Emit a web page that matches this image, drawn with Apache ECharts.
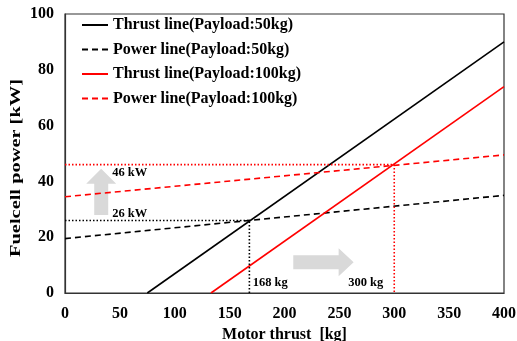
<!DOCTYPE html>
<html>
<head>
<meta charset="utf-8">
<script src="https://cdn.jsdelivr.net/npm/echarts@6/dist/echarts.min.js"></script>
<style>
html,body{margin:0;padding:0;background:#fff;}
#chart{width:517px;height:341px;}
</style>
</head>
<body>
<div id="chart"></div>
<script>
// line end points: [thrust kg, power kW]
var thrust50 = [[75, 0], [400, 90]];
var power50 = [[0, 19.5], [400, 35]];
var thrust100 = [[133, 0], [400, 74]];
var power100 = [[0, 34.5], [400, 49.5]];
// operating points
var guide50 = [[0, 26], [168, 26], [168, 0]];
var guide100 = [[0, 46], [300, 46], [300, 0]];
var seriesNames = ["Thrust line(Payload:50kg)", "Power line(Payload:50kg)",
	"Thrust line(Payload:100kg)", "Power line(Payload:100kg)"];
var noteTexts = ["46 kW", "26 kW", "168 kg", "300 kg"];
var yTitle = "Fuelcell power [kW]";

var FONT = "Liberation Serif";

function lineSeries(name, data, color, type)
{
	return {
		name: name, type: "line", data: data, symbol: "none", silent: true,
		lineStyle: {color: color, width: 1.6, type: type},
		itemStyle: {color: color}
	};
}

var chart = echarts.init(document.getElementById("chart"));
chart.setOption({
	animation: false,
	grid: {left: 65, right: 13, top: 14, bottom: 48, outerBoundsMode: "none",
		show: true, borderColor: "#333", borderWidth: 1.2},
	legend: {
		data: seriesNames, orient: "vertical", left: 81, top: 17, itemGap: 8.5, padding: 0,
		itemWidth: 26, itemHeight: 16,
		itemStyle: {opacity: 0},
		textStyle: {fontFamily: FONT, fontWeight: "bold", fontSize: 16, color: "#000"}
	},
	xAxis: {
		type: "value", min: 0, max: 400, interval: 50,
		name: "Motor thrust  [kg]", nameLocation: "middle", nameGap: 27,
		nameTextStyle: {fontFamily: FONT, fontWeight: "bold", fontSize: 16, color: "#000", verticalAlign: "top"},
		axisLine: {lineStyle: {color: "#333", width: 1.2}},
		axisTick: {show: false}, splitLine: {show: false},
		axisLabel: {fontFamily: FONT, fontWeight: "bold", fontSize: 16, color: "#000", margin: 13}
	},
	yAxis: {
		type: "value", min: 0, max: 100, interval: 20,
		axisLine: {show: true, lineStyle: {color: "#333", width: 1.2}},
		axisTick: {show: false}, splitLine: {show: false},
		axisLabel: {fontFamily: FONT, fontWeight: "bold", fontSize: 16, color: "#000", margin: 11}
	},
	series: [
		lineSeries(seriesNames[0], thrust50, "#000", "solid"),
		lineSeries(seriesNames[1], power50, "#000", [6, 4]),
		lineSeries(seriesNames[2], thrust100, "#ff0000", "solid"),
		lineSeries(seriesNames[3], power100, "#ff0000", [6, 4]),
		lineSeries("guide50", guide50, "#000", [1.5, 2]),
		lineSeries("guide100", guide100, "#ff0000", [1.5, 2])
	]
});

// gray arrows and notes, placed in data space
function px(p){ return chart.convertToPixel({gridIndex: 0}, p); }
var ub = px([33, 28]), ut = px([33, 44.5]);
var rl = px([208, 11]), rr = px([263, 11]);
var upArrow = [
	[ub[0] - 7, ub[1]], [ub[0] + 7, ub[1]], [ub[0] + 7, ut[1] + 15], [ub[0] + 15, ut[1] + 15],
	[ub[0], ut[1]], [ub[0] - 15, ut[1] + 15], [ub[0] - 7, ut[1] + 15]
];
var rightArrow = [
	[rl[0], rl[1] - 7], [rr[0] - 15, rl[1] - 7], [rr[0] - 15, rl[1] - 14], [rr[0], rl[1]],
	[rr[0] - 15, rl[1] + 14], [rr[0] - 15, rl[1] + 7], [rl[0], rl[1] + 7]
];
var noteStyle = {fontFamily: FONT, fontWeight: "bold", fontSize: 12.5, fill: "#000"};
function note(text, p)
{
	var q = px(p);
	return {type: "text", x: q[0], y: q[1], z: 10,
		style: Object.assign({text: text, textVerticalAlign: "middle"}, noteStyle)};
}
chart.setOption({
	graphic: [
		{type: "polygon", shape: {points: upArrow}, style: {fill: "#d9d9d9"}, z: 1},
		{type: "polygon", shape: {points: rightArrow}, style: {fill: "#d9d9d9"}, z: 1},
		note(noteTexts[0], [43, 43]),
		note(noteTexts[1], [43, 28.5]),
		note(noteTexts[2], [171, 3.8]),
		note(noteTexts[3], [258, 3.8]),
		// the source picture stretches the y title along its length
		{type: "text", x: 16, y: 168, rotation: Math.PI / 2, scaleX: 1.36, z: 10,
			style: {text: yTitle, fontFamily: FONT, fontWeight: "bold", fontSize: 15, fill: "#000",
				textAlign: "center", textVerticalAlign: "middle"}}
	]
});
</script>
</body>
</html>
